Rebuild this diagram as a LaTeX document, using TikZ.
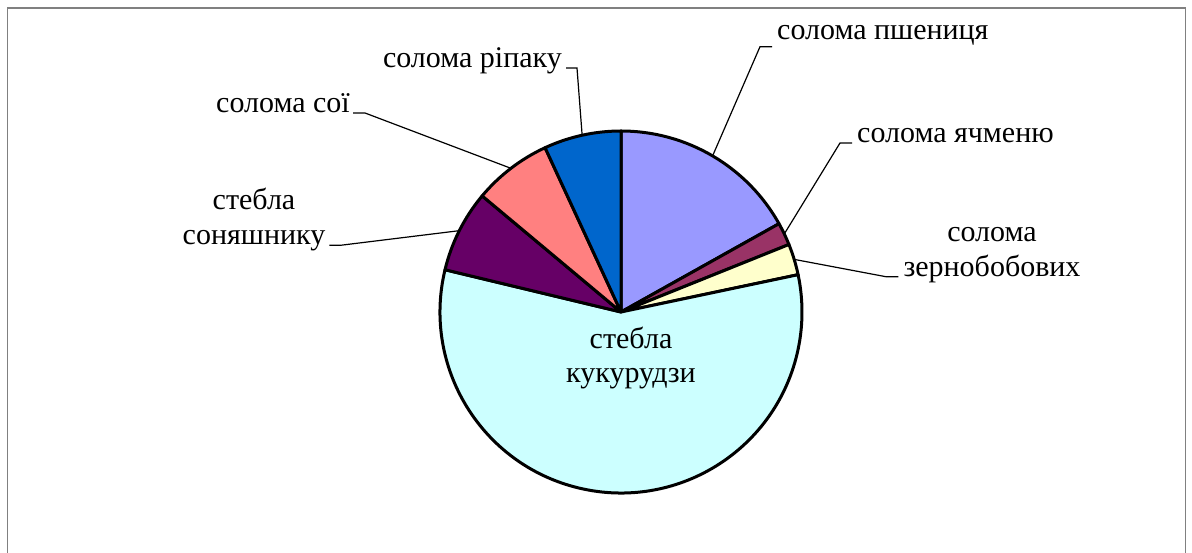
\documentclass[tikz,border=0pt]{standalone}
\usepackage{fontspec}
\setmainfont{Liberation Serif}

\definecolor{wheat}{HTML}{9999FF}
\definecolor{barley}{HTML}{993366}
\definecolor{pulse}{HTML}{FFFFCC}
\definecolor{maize}{HTML}{CCFFFF}
\definecolor{sunflower}{HTML}{660066}
\definecolor{soya}{HTML}{FF8080}
\definecolor{rape}{HTML}{0066CC}

\begin{document}
\begin{tikzpicture}[x=1pt, y=-1pt,
  font=\fontsize{30}{35}\selectfont,
  slice/.style={draw=black, line width=3pt, line join=round},
  lbl/.style={inner sep=0pt},
  leader/.style={draw=black, line width=1.2pt}]
 \useasboundingbox (0,0) rectangle (1192,553);
 \draw[gray, line width=1.5pt] (7.7,560) -- (7.7,8) -- (1185.3,8) -- (1185.3,560);
 \coordinate (c) at (621,312);
 \begin{scope}[shift={(c)}, y=1pt]
   \foreach \from/\to/\col in {29.2/90/wheat, 21.9/29.2/barley, 11.9/21.9/pulse,
       -193.5/11.9/maize, 140.1/166.5/sunflower, 114.8/140.1/soya, 90/114.8/rape}
     \filldraw[slice, fill=\col] (0,0) -- (\from:181) arc[start angle=\from, end angle=\to, radius=181] -- cycle;
   \foreach \name/\ang in {wheat/59.6, barley/25.55, pulse/16.9, sunflower/153.3, soya/127.45, rape/102.4}
     \coordinate (\name rim) at (\ang:181);
 \end{scope}
 % labels (base of two-line labels is the lower line)
 \node[lbl, anchor=base west] (wheatlbl) at (777,40) {солома пшениця};
 \node[lbl, anchor=base west] (barleylbl) at (857,143) {солома ячменю};
 \node[lbl, align=center, anchor=base] (pulselbl) at (992,276.7) {солома\\зернобобових};
 \node[lbl, anchor=base east] (rapelbl) at (562,68) {солома ріпаку};
 \node[lbl, anchor=base east] (soyalbl) at (350,113) {солома сої};
 \node[lbl, align=center, anchor=base] (sunflowerlbl) at (254,245) {стебла\\соняшнику};
 \node[lbl, align=center, anchor=base] (maizelbl) at (631,383) {стебла\\кукурудзи};
 % leaders
 \draw[leader] (wheatrim) -- ([shift={(-17,6.7)}]wheatlbl.base west) -- ([shift={(-5,6.7)}]wheatlbl.base west);
 \draw[leader] (barleyrim) -- ([shift={(-17,0)}]barleylbl.base west) -- ([shift={(-5,0)}]barleylbl.base west);
 \draw[leader] (pulserim) -- ([shift={(-17,-6.5)}]pulselbl.south west) -- ([shift={(-5,-6.5)}]pulselbl.south west);
 \draw[leader] (raperim) -- ([shift={(15,0)}]rapelbl.base east) -- ([shift={(4,0)}]rapelbl.base east);
 \draw[leader] (soyarim) -- ([shift={(15,0)}]soyalbl.base east) -- ([shift={(3,0)}]soyalbl.base east);
 \draw[leader] (sunflowerrim) -- ([shift={(16,-6.5)}]sunflowerlbl.south east) -- ([shift={(4,-6.5)}]sunflowerlbl.south east);
\end{tikzpicture}
\end{document}
